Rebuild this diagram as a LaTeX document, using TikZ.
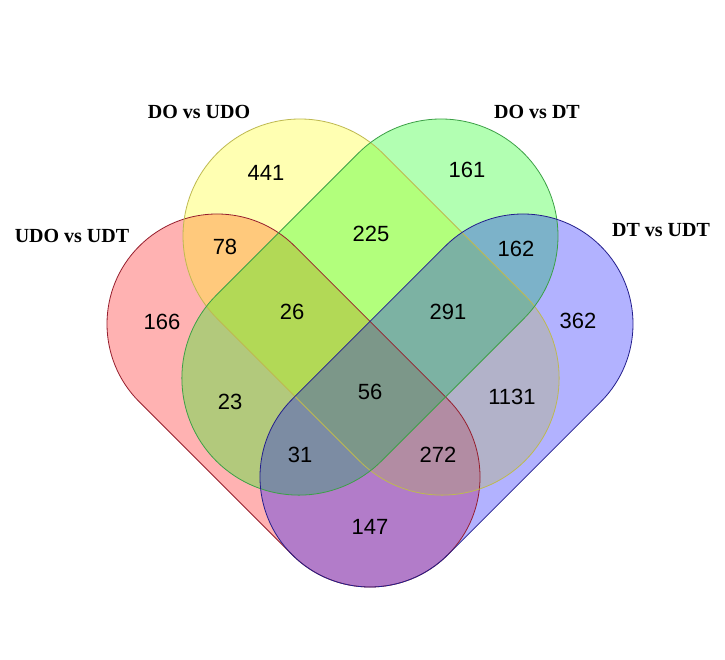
\documentclass[tikz,border=0pt]{standalone}
\usepackage{fontspec}
\setmainfont{Liberation Serif}
\setsansfont{Liberation Sans}
\definecolor{udofill}{RGB}{255,0,0}
\definecolor{dudofill}{RGB}{255,255,0}
\definecolor{ddtfill}{RGB}{0,255,0}
\definecolor{dtfill}{RGB}{0,0,255}
\definecolor{udoline}{RGB}{150,30,45}
\definecolor{dudoline}{RGB}{190,185,80}
\definecolor{ddtline}{RGB}{60,160,70}
\definecolor{dtline}{RGB}{35,30,140}
\tikzset{
	setfill/.style={fill=#1, fill opacity=0.3},
	setline/.style={draw=#1, line width=0.8pt},
	count/.style={font=\sffamily\fontsize{22}{22}\selectfont},
	setname/.style={font=\bfseries\fontsize{20}{20}\selectfont},
}
% capsule: options, x, y, angle, length, radius
\newcommand{\capsule}[6]{%
	\path[#1, shift={(#2,#3)}, rotate=#4]
		(0,#6) -- (#5,#6) arc[start angle=90, end angle=-90, radius=#6]
		-- (0,-#6) arc[start angle=270, end angle=90, radius=#6] -- cycle;}

\begin{document}
\begin{tikzpicture}[x=1pt, y=1pt]
			\fill[white] (0,0) rectangle (725,660);
			\useasboundingbox (0,0) rectangle (725,660);
			
			\capsule{setfill=udofill}{217}{336}{-45}{216.4}{110}
			\capsule{setfill=dudofill}{300}{424}{-45}{201}{117}
			\capsule{setfill=ddtfill}{441}{424}{-135}{201}{117}
			\capsule{setfill=dtfill}{523}{336}{-135}{216.4}{110}
			
			\capsule{setline=udoline}{217}{336}{-45}{216.4}{110}
			\capsule{setline=dudoline}{300}{424}{-45}{201}{117}
			\capsule{setline=ddtline}{441}{424}{-135}{201}{117}
			\capsule{setline=dtline}{523}{336}{-135}{216.4}{110}
			
			\node[setname] (udo) at (72, 424) {UDO vs UDT};
			\node[setname] (dudo) at (199, 548) {DO vs UDO};
			\node[setname] (ddt) at (537, 548) {DO vs DT};
			\node[setname] (dt) at (661, 430) {DT vs UDT};
			
			\node[count] (cY) at (266, 487) {441};
			\node[count] (cG) at (467, 490) {161};
			\node[count] (cR) at (162, 338) {166};
			\node[count] (cB) at (578, 339) {362};
			\node[count] (cRY) at (225, 413) {78};
			\node[count] (cYG) at (371, 426) {225};
			\node[count] (cGB) at (516, 411) {162};
			\node[count] (cRYG) at (292, 348) {26};
			\node[count] (cYGB) at (448, 348) {291};
			\node[count] (cRG) at (230, 258) {23};
			\node[count] (cAll) at (370, 268) {56};
			\node[count] (cYB) at (512, 263) {1131};
			\node[count] (cRGB) at (300, 205) {31};
			\node[count] (cRYB) at (438, 205) {272};
			\node[count] (cRB) at (370, 133) {147};
		\end{tikzpicture}
\end{document}
